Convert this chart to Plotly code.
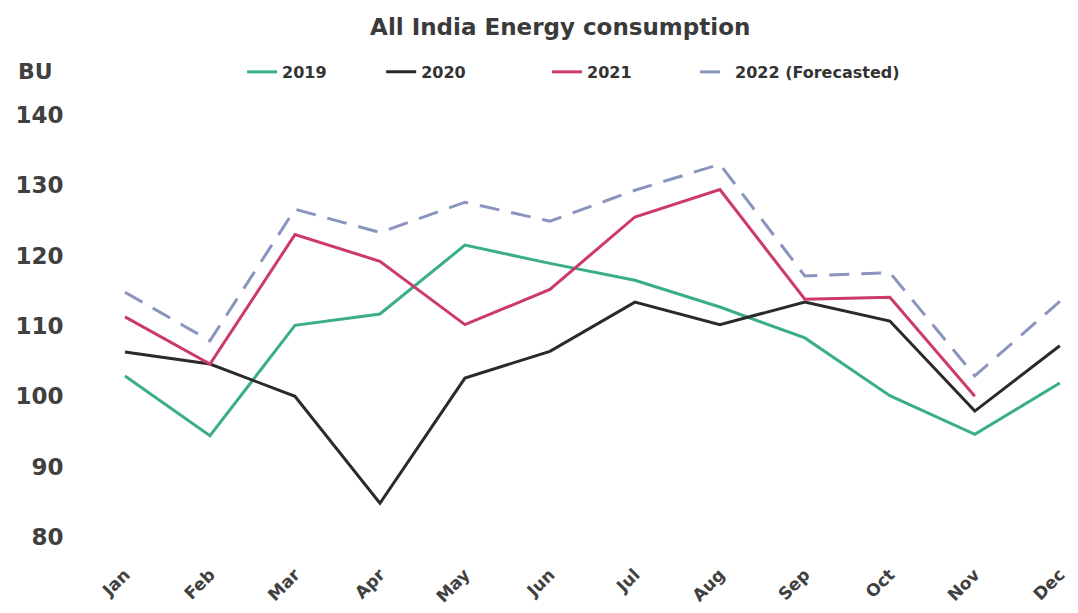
import plotly.graph_objects as go

months = ["Jan", "Feb", "Mar", "Apr", "May", "Jun", "Jul", "Aug", "Sep", "Oct", "Nov", "Dec"]
y2019 = [102.9, 94.4, 110.1, 111.7, 121.5, 118.9, 116.5, 112.7, 108.3, 100.1, 94.6, 101.9]
y2020 = [106.3, 104.6, 100.0, 84.8, 102.6, 106.4, 113.4, 110.2, 113.4, 110.7, 97.9, 107.2]
y2021 = [111.3, 104.6, 123.0, 119.2, 110.2, 115.2, 125.5, 129.4, 113.8, 114.1, 100.0, None]
y2022 = [114.8, 107.9, 126.6, 123.3, 127.6, 124.9, 129.3, 133.0, 117.1, 117.6, 102.9, 113.5]

FONT = "DejaVu Sans"
series = [
    ("2019", y2019, dict(color="#3aae88", width=3), "legend", 0.1543),
    ("2020", y2020, dict(color="#2a2a2a", width=3), "legend2", 0.2964),
    ("2021", y2021, dict(color="#cc3a66", width=3), "legend3", 0.4658),
    ("2022 (Forecasted)", y2022, dict(color="#8a95bf", width=3, dash="20px,12px"), "legend4", 0.617),
]

fig = go.Figure()
legend_layout = {}
for name, vals, line, lg, lx in series:
    fig.add_trace(go.Scatter(x=months, y=vals, name=name, mode="lines", line=line, legend=lg))
    legend_layout[lg] = dict(orientation="h", x=lx, xanchor="left", y=1.102, yanchor="middle",
                             font=dict(family=FONT, size=16, color="#333333", weight="bold"),
                             bgcolor="rgba(0,0,0,0)", itemwidth=30)

fig.update_layout(
    width=1062, height=597,
    margin=dict(l=83, r=0, t=107, b=68, autoexpand=False),
    paper_bgcolor="white", plot_bgcolor="white",
    font=dict(family=FONT, color="#404040"),
    title=dict(text="<b>All India Energy consumption</b>", x=0.52, xanchor="center",
               y=0.968, yanchor="middle", font=dict(family=FONT, size=23, color="#3a3a3a")),
    showlegend=True,
    **legend_layout,
)
fig.update_xaxes(type="category", range=[-0.4, 11.12], showgrid=False, zeroline=False,
                 showline=False, tickangle=-45, ticks="outside", ticklen=20,
                 tickcolor="rgba(0,0,0,0)",
                 tickfont=dict(family=FONT, size=17, color="#404040", weight="bold"))
fig.update_yaxes(range=[80, 140], dtick=10, showgrid=False, zeroline=False,
                 showline=False, ticks="outside", ticklen=22, tickcolor="rgba(0,0,0,0)",
                 tickfont=dict(family=FONT, size=23, color="#404040", weight="bold"))
fig.add_annotation(text="<b>BU</b>", xref="paper", yref="paper", x=-0.0572, y=1.102,
                   xanchor="center", yanchor="middle", showarrow=False,
                   font=dict(family=FONT, size=22, color="#404040"))

fig.write_html("out.html")
